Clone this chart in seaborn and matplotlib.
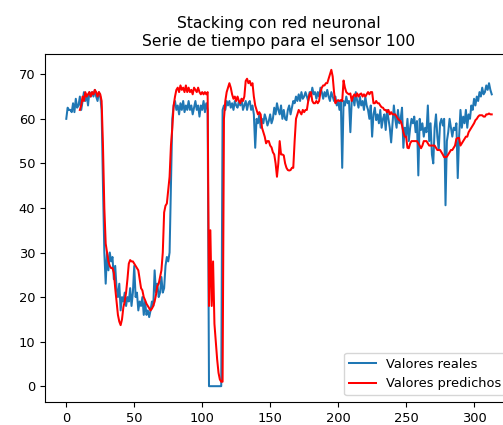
import numpy as np
import pandas as pd
import matplotlib
matplotlib.use("Agg")
import matplotlib.pyplot as plt
import seaborn as sns

title = "Stacking con red neuronal\nSerie de tiempo para el sensor 100"
label_real = "Valores reales"
label_pred = "Valores predichos"

valores_reales = [
    60, 62.5, 62, 62, 61.5, 63.5, 61.5, 64.5, 62.5, 63,
    65, 62, 64, 66, 64, 65.5, 63, 66, 65, 66,
    65, 66.5, 65, 64, 66, 65, 62, 45, 30, 23,
    30, 26, 30, 28, 29, 24, 27, 22, 20, 23,
    17, 20, 19, 21, 18, 20, 19, 22, 18, 21,
    27, 20, 21, 17, 19, 18, 20, 16, 19, 16,
    17, 15.5, 17, 19, 18, 26, 21, 23, 20, 21,
    24.5, 21, 22, 27, 29, 28, 30, 45, 60, 63,
    64, 62, 63, 61, 63.5, 62, 64, 61.5, 63, 62,
    64, 62, 63, 61, 62.5, 64, 62, 63, 60.5, 63,
    62, 64, 61.5, 63.5, 62, 0, 0, 0, 0, 0,
    0, 0, 0, 0, 0, 62, 63, 62, 64, 63,
    64, 62.5, 63.5, 62, 64, 63, 62.5, 64, 63, 64.5,
    62, 63, 64, 62, 63.5, 64, 62, 63, 61, 53.5,
    60, 59, 61, 58, 60, 59, 61, 60, 58.5, 59.5,
    61, 59, 60, 62.5, 61, 63.5, 62, 61, 63, 60,
    62, 60, 59.7, 62, 63, 61, 62.5, 64, 63.5, 65,
    64, 65.5, 64, 66, 64.5, 65, 66, 65, 64, 66,
    65, 67, 65.5, 66, 64.5, 66, 65, 67, 66, 64.5,
    66, 65, 66.5, 65, 64, 66, 65, 64, 65, 63,
    64, 62, 64, 49, 64, 63, 65, 63.5, 64, 57,
    64, 65, 63, 66, 64, 62.5, 65, 63, 64, 62,
    65, 63, 62, 60, 63, 56, 61, 62.5, 59.7, 61,
    59, 62, 58, 60, 61, 57.5, 62, 60, 58, 54.7,
    59, 63, 60, 58, 62, 59, 60, 62.5, 53.5, 58,
    56, 60, 55, 58, 60, 59, 60.5, 57, 59.5, 47.3,
    60, 57.5, 59, 56, 58, 57, 63, 55, 59, 52,
    50, 58, 61, 56, 53, 59, 60, 58.5, 60, 40.6,
    55, 57, 60, 58, 56, 58, 57.5, 59, 46.7, 56,
    62, 58, 60.5, 59, 62, 58, 61, 60, 63, 62,
    64.5, 63, 65, 64, 66, 65, 67, 65.5, 66, 67.5,
    66.5, 68, 66.5, 65.5,
]

valores_predichos = [np.nan] * 10 + [
    62, 63, 65, 64, 66, 65, 65.5, 66, 65, 66,
    65.5, 66.5, 66, 65, 66, 65.5, 64, 54, 40, 32,
    30, 28, 27, 26.5, 26.5, 25.5, 22, 19, 16, 14.5,
    13.7, 15, 17.7, 19, 21, 24, 27.5, 28.3, 28, 28,
    27.5, 27, 26.5, 26, 24, 22, 21.5, 20, 19.3, 18.5,
    18, 17.5, 17, 17.4, 18, 19, 20.5, 22.5, 23, 24.5,
    26, 30, 39, 40.5, 41, 44, 47, 54, 58, 63,
    65, 66.5, 67, 66, 67.5, 66.5, 67, 66, 67.5, 66,
    67, 66, 66.5, 65.5, 67, 66.5, 66, 67, 66, 65.5,
    66, 65.5, 66, 65.5, 66, 18, 35, 18, 28, 14,
    10, 6, 3, 1.5, 1, 1, 60, 64, 66, 67,
    68, 67, 65.5, 64.5, 65, 64, 65, 64, 63.5, 64.5,
    64, 65, 68.5, 69, 68, 68.5, 67.5, 68, 65, 63,
    62, 61, 61.5, 61, 58, 57, 56, 54.5, 55, 55,
    54, 53.6, 52.5, 52, 50, 47, 50, 55, 52, 52,
    51.8, 50, 49, 48.5, 48.4, 48.5, 49, 49, 55, 60,
    61, 62, 61.5, 61, 62, 61.5, 62, 62, 64, 65.5,
    66, 64, 63.5, 63.5, 64, 63.5, 64, 66, 67, 67.5,
    67.5, 68, 68, 69, 70, 71, 69.5, 66, 63.5, 64,
    64.2, 64, 64.2, 64, 68.6, 67, 66, 65.7, 65.5, 65.7,
    64, 65, 65.5, 65, 65.7, 65, 65.5, 65.7, 65, 65.5,
    65, 65.5, 66, 65.5, 66, 66, 63.5, 63.5, 64, 63.5,
    63.5, 63, 62.6, 62.5, 62, 62, 61.5, 62, 61, 61.5,
    61, 61, 61, 60.5, 60, 59.7, 59.5, 58.5, 57, 56,
    56, 53.5, 53.4, 54.5, 55, 55, 55, 55, 55, 54.5,
    54, 53.4, 54, 55, 55, 55, 54.5, 54, 54, 54,
    54, 54, 53.5, 53, 53, 53, 52.5, 52, 51.4, 51.4,
    51.5, 52, 52.5, 53, 53, 53.5, 54, 55.5, 55.7, 55.7,
    54, 54.5, 55, 55.5, 56, 56, 57, 57.5, 58, 58.5,
    59, 59.7, 60, 60.5, 60.8, 60.8, 60.8, 60.5, 60.5, 61,
    61, 61.2, 61, 61,
]

n = min(len(valores_reales), len(valores_predichos))
df = pd.DataFrame({
    "t": np.arange(n),
    "real": valores_reales[:n],
    "pred": valores_predichos[:n],
})

plt.rcParams["font.family"] = ["DejaVu Sans"]
fig = plt.figure(figsize=(5.03, 4.25), dpi=100)
ax = fig.add_axes([45 / 503, 23 / 425, 468 / 503, 348 / 425])

lw = 1.45
sns.lineplot(data=df, x="t", y="real", ax=ax, color="#1f77b4", linewidth=lw, label=label_real)
sns.lineplot(data=df, x="t", y="pred", ax=ax, color="red", linewidth=lw, label=label_pred)

ax.set_xlabel("")
ax.set_ylabel("")
ax.set_title(title, fontsize=11.2)
ax.set_xticks([0, 50, 100, 150, 200, 250, 300])
ax.set_yticks([0, 10, 20, 30, 40, 50, 60, 70])
ax.tick_params(labelsize=9.4)
ax.legend(loc="lower right", fontsize=9.4)

fig.savefig("out.png", dpi=100)
